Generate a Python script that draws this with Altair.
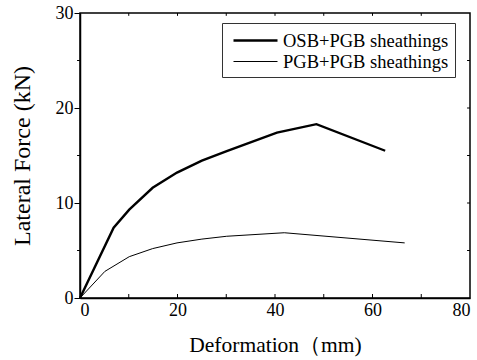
import altair as alt
import pandas as pd

# Data
osb_x = [0, 6.9, 10.1, 14.9, 19.9, 25.0, 30.1, 40.4, 48.5, 62.6]
osb_y = [0, 7.4, 9.3, 11.6, 13.2, 14.45, 15.45, 17.4, 18.3, 15.5]
pgb_x = [0, 5.1, 10.1, 14.9, 19.9, 25.0, 30.1, 41.9, 66.6]
pgb_y = [0, 2.8, 4.35, 5.2, 5.8, 6.2, 6.5, 6.87, 5.8]
series_names = ["OSB+PGB sheathings", "PGB+PGB sheathings"]

x_ticks = [0, 10, 20, 30, 40, 50, 60, 70, 80]
x_labels = [0, 20, 40, 60, 80]
y_major = [0, 10, 20, 30]
y_minor = [5, 15, 25]
right_ticks = [5, 10, 15, 20, 25]

FONT = "Liberation Serif"
X_TITLE = "Deformation（mm)"
Y_TITLE = "Lateral Force (kN)"
axis_style = dict(
    domainColor="black", domainWidth=1.5, tickColor="black", tickWidth=1,
    labelFont=FONT, labelFontSize=18, labelColor="black",
    titleFont=FONT, titleColor="black", titleFontWeight="normal",
    grid=False,
)
x_axis = alt.Axis(values=x_labels, ticks=False, labelPadding=3, titlePadding=15,
                  titleFontSize=21.5, **axis_style)
y_axis = alt.Axis(values=y_major, tickSize=6, labelPadding=1, titlePadding=21,
                  titleFontSize=24, **axis_style)

df = pd.DataFrame({
    "x": osb_x + pgb_x,
    "y": osb_y + pgb_y,
    "s": [series_names[0]] * len(osb_x) + [series_names[1]] * len(pgb_x),
    "o": list(range(len(osb_x))) + list(range(len(pgb_x))),
})

xs = alt.Scale(domain=[0, 80], nice=False, zero=False)
ys = alt.Scale(domain=[0, 30], nice=False, zero=False)

lines = alt.Chart(df).mark_line(color="black").encode(
    x=alt.X("x:Q", scale=xs, title=X_TITLE, axis=x_axis),
    y=alt.Y("y:Q", scale=ys, title=Y_TITLE, axis=y_axis),
    order="o:Q",
    detail="s:N",
    strokeWidth=alt.StrokeWidth(
        "s:N",
        scale=alt.Scale(domain=series_names, range=[2.4, 1.0]),
        legend=alt.Legend(
            title=None, orient="none", legendX=142, legendY=10,
            symbolType="M-0.6,0H3.8", symbolSize=400, symbolStrokeColor="black",
            symbolFillColor="transparent",
            labelFont=FONT, labelFontSize=18.5, labelColor="black", labelLimit=400,
            labelOffset=32, padding=6, rowPadding=1,
            strokeColor="#333333", fillColor="white",
        ),
    ),
)

# minor ticks on left axis (outward)
left_minor = alt.Chart(pd.DataFrame({"y": y_minor})).mark_rule(color="black", strokeWidth=1).encode(
    y=alt.Y("y:Q", scale=ys, title=Y_TITLE, axis=y_axis),
    x=alt.datum(0, scale=xs, title=X_TITLE, axis=x_axis), x2=alt.datum(-0.6)
)
# bottom ticks (inward)
bottom = alt.Chart(pd.DataFrame({"x": x_ticks[1:-1]})).mark_rule(color="black", strokeWidth=1).encode(
    x=alt.X("x:Q", scale=xs, title=X_TITLE, axis=x_axis),
    y=alt.datum(0, scale=ys, title=Y_TITLE, axis=y_axis), y2=alt.datum(0.42)
)
# top ticks (inward)
top = alt.Chart(pd.DataFrame({"x": x_ticks[1:-1]})).mark_rule(color="black", strokeWidth=1).encode(
    x=alt.X("x:Q", scale=xs, title=X_TITLE, axis=x_axis),
    y=alt.datum(30, scale=ys, title=Y_TITLE, axis=y_axis), y2=alt.datum(29.7)
)
# right ticks (inward)
right = alt.Chart(pd.DataFrame({"y": right_ticks})).mark_rule(color="black", strokeWidth=1).encode(
    y=alt.Y("y:Q", scale=ys, title=Y_TITLE, axis=y_axis),
    x=alt.datum(80, scale=xs, title=X_TITLE, axis=x_axis), x2=alt.datum(79.4)
)

chart = alt.layer(lines, left_minor, bottom, top, right).properties(
    width=390, height=285,
    autosize=alt.AutoSizeParams(type="none"),
    padding={"left": 80, "top": 13, "right": 7, "bottom": 62},
    background="white",
).configure(
    font=FONT
).configure_view(
    stroke="black", strokeWidth=1.5
).configure_axis(
    labelFont=FONT, titleFont=FONT, titleFontWeight="normal"
)

chart.save("out.html", embed_options={"renderer": "svg", "actions": False})
